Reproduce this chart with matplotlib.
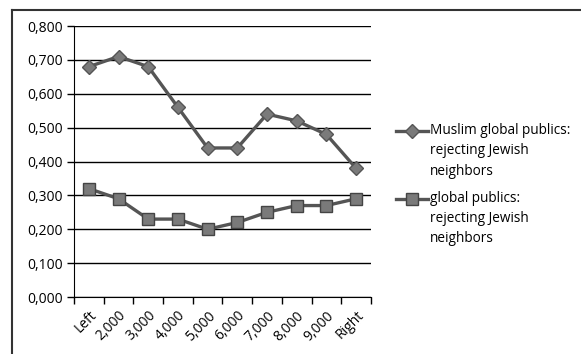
import numpy as np
import matplotlib.pyplot as plt
from matplotlib.lines import Line2D
from matplotlib.ticker import FuncFormatter

# Datos
categorias = ['Left', '2,000', '3,000', '4,000', '5,000', '6,000', '7,000', '8,000', '9,000', 'Right']
musulmanes = [0.68, 0.71, 0.68, 0.56, 0.44, 0.44, 0.54, 0.52, 0.48, 0.38]
global_pub = [0.32, 0.29, 0.23, 0.23, 0.20, 0.22, 0.25, 0.27, 0.27, 0.29]
etiquetas = ['Muslim global publics:\nrejecting Jewish\nneighbors',
             'global publics:\nrejecting Jewish\nneighbors']

plt.rcParams['font.family'] = ['Open Sans', 'DejaVu Sans']

W, H = 581, 354
fig = plt.figure(figsize=(W / 100, H / 100), dpi=100)
ax = fig.add_axes([0.1274, 0.161, 0.511, 0.7655])

x = np.arange(len(categorias))
linea = '#555555'
estilos = [dict(marker='D', ms=7, mfc='#7a7a7a', mec='#555555'),
           dict(marker='s', ms=8.5, mfc='#7a7a7a', mec='#444444')]
for serie, est in zip([musulmanes, global_pub], estilos):
    ax.plot(x, serie, color=linea, lw=2.4, mew=1, zorder=3, **est)

ax.set_xlim(-0.5, len(categorias) - 0.5)
ax.set_ylim(0, 0.8)
ax.set_yticks(np.arange(0, 0.81, 0.1))
ax.yaxis.set_major_formatter(FuncFormatter(lambda v, p: f'{v:.3f}'.replace('.', ',')))
ax.grid(axis='y', color='black', lw=1)
ax.set_axisbelow(True)

# etiquetas en el centro, marcas entre categorias
ax.set_xticks(x)
ax.set_xticklabels(categorias, rotation=45, ha='right', rotation_mode='anchor')
ax.set_xticks(np.arange(-0.5, len(categorias)), minor=True)
ax.tick_params(axis='x', which='major', length=0, pad=8, labelsize=10)
ax.tick_params(axis='x', which='minor', length=5, width=1, color='black')
ax.tick_params(axis='y', length=5, width=1, labelsize=10, pad=3)

for lado in ['top', 'right']:
    ax.spines[lado].set_visible(False)
ax.spines['left'].set_color('black')
ax.spines['bottom'].set_color('black')

# leyenda a mano: simbolo alineado con la primera linea del texto
for (y0, texto, est) in zip([131, 199], etiquetas, estilos):
    yf = 1 - y0 / H
    fig.add_artist(Line2D([396 / W, 428 / W], [yf, yf], color=linea, lw=2.4))
    fig.add_artist(Line2D([412 / W], [yf], color=linea, mew=1, **est))
    for i, renglon in enumerate(texto.split('\n')):
        fig.text(430 / W, 1 - (y0 + 20 * i) / H, renglon, fontsize=9.8,
                 va='center', ha='left')

# borde del grafico
fig.add_artist(Line2D([0.0215, 1], [0.973, 0.973], color='#333333', lw=1.5))
fig.add_artist(Line2D([0.0215, 0.0215], [0, 0.973], color='#333333', lw=1.5))

fig.savefig('out.png', dpi=100)
